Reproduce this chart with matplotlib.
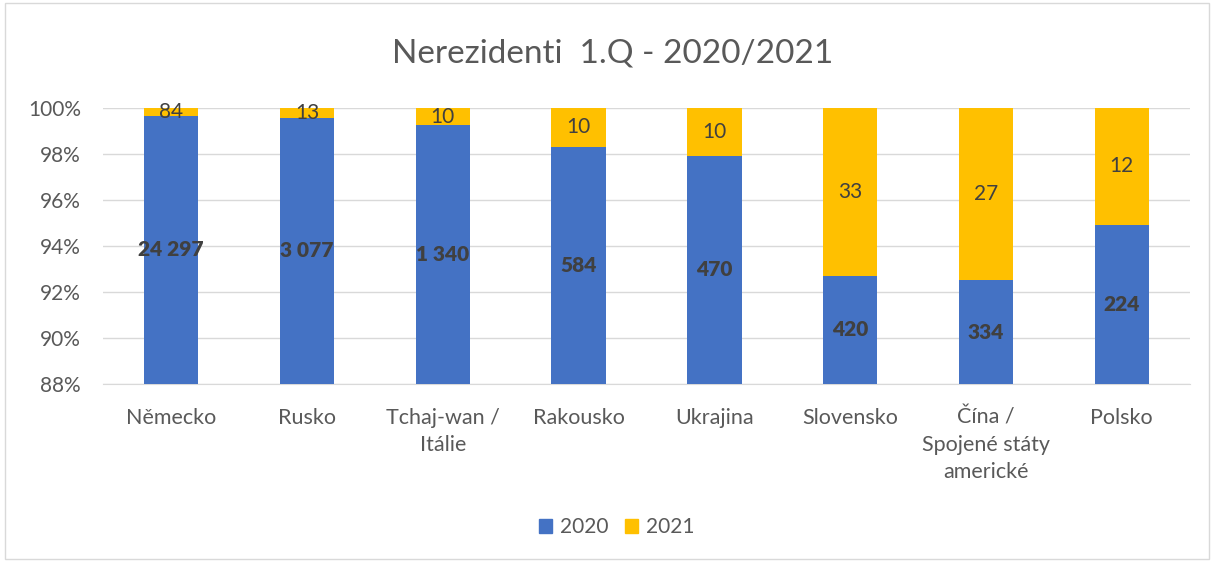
import matplotlib
matplotlib.use("Agg")
import matplotlib.pyplot as plt
from matplotlib.patches import Rectangle, Patch
from matplotlib.ticker import FuncFormatter
import numpy as np

plt.rcParams['font.family'] = ['Lato', 'DejaVu Sans']

categories = ["Německo", "Rusko", "Tchaj-wan /\nItálie", "Rakousko", "Ukrajina",
              "Slovensko", "Čína /\nSpojené státy\namerické", "Polsko"]
v2020 = [24297, 3077, 1340, 584, 470, 420, 334, 224]
v2021 = [84, 13, 10, 10, 10, 33, 27, 12]
series_names = ["2020", "2021"]
title = "Nerezidenti  1.Q - 2020/2021"

c2020 = "#4472C4"
c2021 = "#FFC000"
txt = "#595959"

a = np.array(v2020, float)
b = np.array(v2021, float)
tot = a + b
p20 = a / tot * 100
p21 = b / tot * 100

fig = plt.figure(figsize=(12.14, 5.61), dpi=100)
fig.patches.append(Rectangle((0.004, 0.004), 0.992, 0.99, transform=fig.transFigure,
                             fill=False, edgecolor="#D9D9D9", linewidth=1.0))
ax = fig.add_axes([0.085, 0.3155, 0.895, 0.492])
x = np.arange(len(categories))
ymin = 88
w = 0.4
ax.bar(x, p20 - ymin, bottom=ymin, width=w, color=c2020, zorder=3)
ax.bar(x, p21, bottom=p20, width=w, color=c2021, zorder=3)

for i in range(len(x)):
    ax.text(x[i], (ymin + p20[i]) / 2, f"{v2020[i]:,}".replace(",", " "),
            ha="center", va="center", fontsize=15, fontweight="heavy", color="#404040", zorder=4)
    ax.text(x[i], (p20[i] + 100) / 2, f"{v2021[i]}", ha="center", va="center",
            fontsize=15, color="#404040", zorder=4)

ax.set_xlim(-0.5, len(x) - 0.5)
ax.set_ylim(88, 100)
ax.set_yticks(np.arange(88, 101, 2))
ax.yaxis.set_major_formatter(FuncFormatter(lambda v, p: f"{int(v)}%"))
ax.grid(axis="y", color="#D9D9D9", linewidth=1, zorder=0)
for s in ["top", "right", "left"]:
    ax.spines[s].set_visible(False)
ax.spines["bottom"].set_color("#D9D9D9")
ax.tick_params(axis="both", length=0, labelsize=15, colors=txt)
ax.tick_params(axis="y", pad=16)
ax.tick_params(axis="x", pad=17, labelsize=15.5)
ax.set_xticks(x)
ax.set_xticklabels(categories, linespacing=1.45)

fig.text(0.505, 0.905, title, ha="center", va="center", fontsize=24, color=txt)

handles = [Patch(color=c2020), Patch(color=c2021)]
fig.legend(handles, series_names, loc="center", bbox_to_anchor=(0.508, 0.06), ncol=2,
           frameon=False, fontsize=15, handlelength=0.6, handleheight=0.6,
           handletextpad=0.4, columnspacing=0.8, labelcolor=txt)

fig.savefig("out.png", dpi=100)
